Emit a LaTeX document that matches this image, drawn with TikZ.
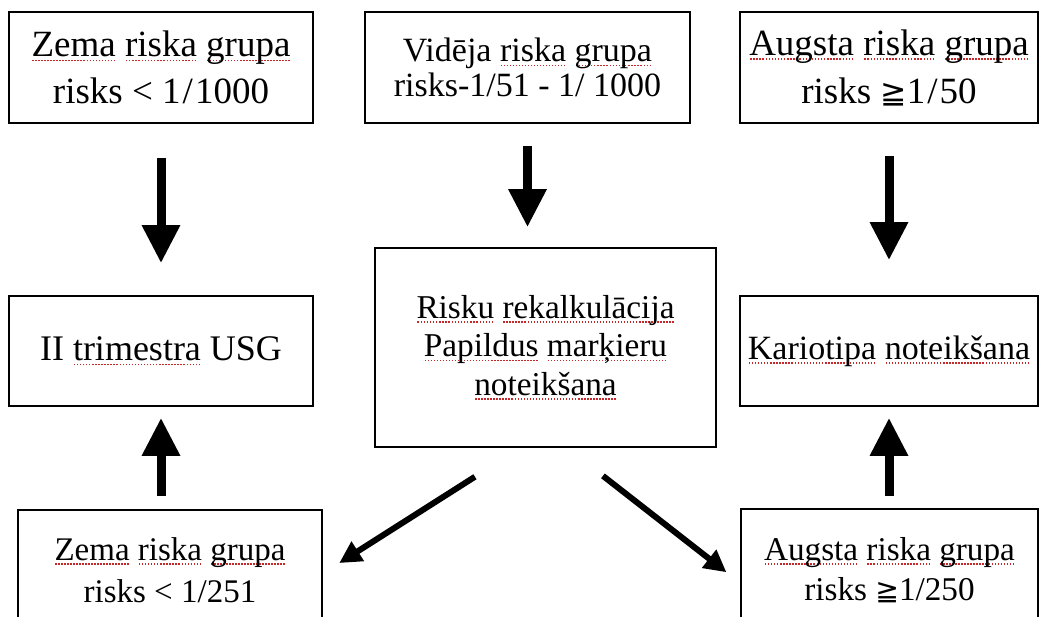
\documentclass[tikz,border=0pt]{standalone}
\usepackage{fontspec}
\setmainfont{Liberation Serif}
\newfontfamily\symf[Scale=0.85]{DejaVu Sans}
\usetikzlibrary{arrows.meta}
\definecolor{splred}{RGB}{196,40,40}
\newcommand\sqw[1]{\setbox0\hbox{#1}\rlap{\raisebox{-0.13em}{\color{splred}\hbox to \wd0{\xleaders\hbox to 3pt{\hss\rule{1.4pt}{1.4pt}\hss}\hfill}}}\box0\relax}
\tikzset{
  box/.style={draw, line width=1.6pt, align=center, inner sep=0pt},
  blockarrow/.style={line width=9pt, -{Triangle[width=36pt,length=38pt]}},
  diagarrow/.style={line width=6pt, -{Triangle[width=22pt,length=22pt]}}
}
\begin{document}
\begin{tikzpicture}[x=1pt,y=-1pt]
\useasboundingbox (0,0) rectangle (1039,617);
\clip (0,0) rectangle (1039,617);
% top row
\node[box, minimum width=304pt, minimum height=111pt, font=\fontsize{37}{47}\selectfont] (b1) at (161,67.5)
  {\sqw{Zema} \sqw{riska} \sqw{grupa}\\risks < 1\kern2pt/\kern2pt1000};
\node[box, minimum width=325pt, minimum height=111pt, font=\fontsize{34}{35}\selectfont] (b2) at (527.5,67.5)
  {Vidēja \sqw{riska} \sqw{grupa}\\risks-1/51 - 1/ 1000};
\node[box, minimum width=298pt, minimum height=111pt, font=\fontsize{37}{48}\selectfont] (b3) at (889,67.5)
  {\sqw{Augsta} \sqw{riska} \sqw{grupa}\\risks {\symf ≧}1\kern2pt/\kern2pt50};
% middle row
\node[box, minimum width=304pt, minimum height=110pt, font=\fontsize{36}{40}\selectfont] (b4) at (161,351)
  {II \sqw{trimestra} USG};
\node[box, minimum width=341pt, minimum height=199pt, font=\fontsize{33.3}{38.5}\selectfont] (b5) at (545.5,347.5)
  {\sqw{Risku} \sqw{rekalkulācija}\\\sqw{Papildus} \sqw{marķieru}\\\sqw{noteikšana}};
\node[box, minimum width=298pt, minimum height=110pt, font=\fontsize{34}{40}\selectfont] (b6) at (889,351)
  {\sqw{Kariotipa} \sqw{noteikšana}};
% bottom row
\node[box, minimum width=304pt, minimum height=120pt, font=\fontsize{33}{42}\selectfont] (b7) at (170,570)
  {\sqw{Zema} \sqw{riska} \sqw{grupa}\\risks < 1/251};
\node[box, minimum width=297pt, minimum height=122pt, font=\fontsize{33.2}{40}\selectfont] (b8) at (889.5,570)
  {\sqw{Augsta} \sqw{riska} \sqw{grupa}\\risks {\symf ≧}1/250};
% arrows
\draw[blockarrow, shorten <=34pt, shorten >=32pt] (b1.south) -- (b4.north);
\draw[blockarrow, shorten <=22pt, shorten >=20pt] (b2.south) -- (b2.south |- b5.north);
\draw[blockarrow, shorten <=32pt, shorten >=35pt] (b3.south) -- (b6.north);
\draw[blockarrow, shorten <=13pt, shorten >=11pt] (b4.south |- b7.north) -- (b4.south);
\draw[blockarrow, shorten <=12pt, shorten >=11pt] (b6.south |- b8.north) -- (b6.south);
\draw[diagarrow, shorten <=54pt, shorten >=19.5pt] ([xshift=-25pt]b5.south) -- ([yshift=-3.5pt]b7.east);
\draw[diagarrow, shorten <=45.6pt, shorten >=17.5pt] ([xshift=21.5pt]b5.south) -- ([yshift=-13pt]b8.west);
\end{tikzpicture}
\end{document}
